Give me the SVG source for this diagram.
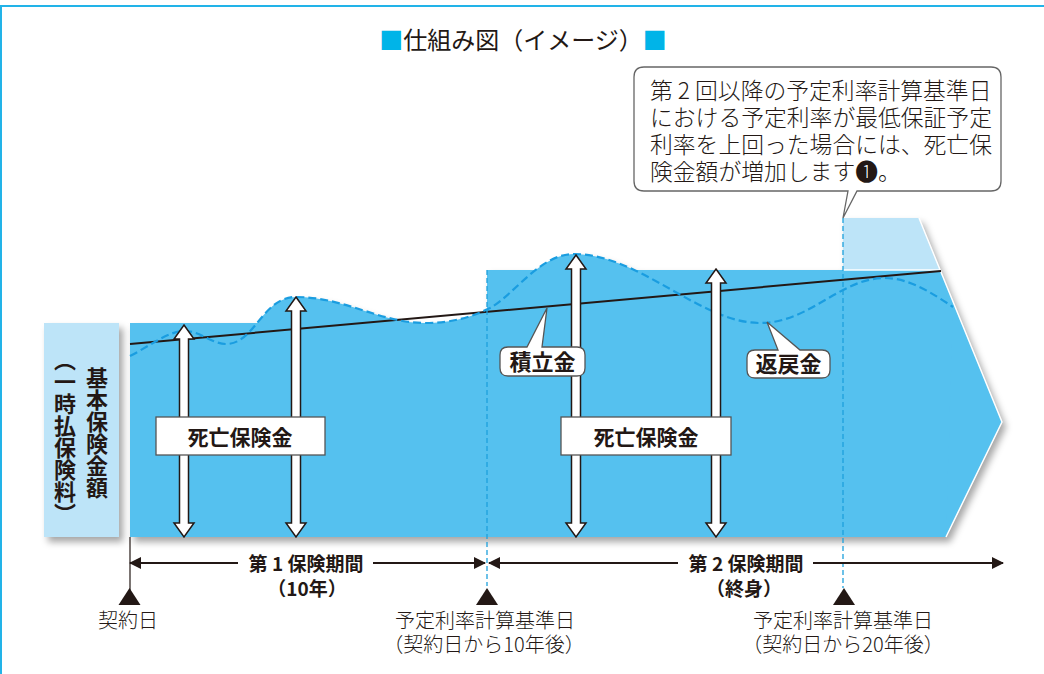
<svg xmlns="http://www.w3.org/2000/svg" width="1044" height="674" viewBox="0 0 1044 674">
<defs>
<style>
text{font-family:"Noto Sans CJK JP","Noto Sans CJK SC",sans-serif;fill:#231815}
.b{font-weight:bold}
.l{font-weight:300}
.dv{stroke:#1ea0dc;stroke-width:1.3;stroke-dasharray:5 3;fill:none}
.dbl{fill:#fff;stroke:#231815;stroke-width:1.5;stroke-linejoin:miter}
.box{fill:#fff;stroke:#555;stroke-width:1.3}
.tl{stroke:#231815;stroke-width:2;fill:none}
</style>
<filter id="sh" x="-10%" y="-10%" width="130%" height="130%">
<feDropShadow dx="4" dy="5" stdDeviation="3.5" flood-color="#000" flood-opacity="0.35"/>
</filter>
<marker id="ah" viewBox="0 0 12 12" refX="11" refY="6" markerWidth="12" markerHeight="12" markerUnits="userSpaceOnUse" orient="auto-start-reverse">
<path d="M0,0 L12,6 L0,12 Z" fill="#231815"/>
</marker>
</defs>
<rect width="1044" height="674" fill="#fff"/>
<g id="frame">
<path d="M1,674 V6 H1044" fill="none" stroke="#22b3e8" stroke-width="2"/>
</g>
<g id="title">
<text x="523" y="49" font-size="24" text-anchor="middle"><tspan fill="#00b4e8">■</tspan>仕組み図（イメージ）<tspan fill="#00b4e8">■</tspan></text>
</g>
<g id="base-box">
<rect x="44" y="323" width="75" height="214" fill="#bde4f8" filter="url(#sh)"/>
<text x="97" y="433" font-size="22" class="b" text-anchor="middle" style="writing-mode:vertical-rl">基本保険金額</text>
<text x="65" y="437" font-size="22" class="b" text-anchor="middle" style="writing-mode:vertical-rl">（一時払保険料）</text>
</g>
<g id="main-shape">
<g filter="url(#sh)">
<polygon points="843,218 919,218 940,270 843,270" fill="#bde4f8"/>
<polygon points="130,323 487,323 487,270 940,270 1002,422 946,537 130,537" fill="#55c1ef"/>
<path d="M130,356 C150,346 168,331 185,331 C200,331 212,344 226,344 C255,344 262,297 296,297 C345,297 380,323 425,323 C450,323 470,318 490,308 C515,294 540,254 574,254 C640,254 700,323 760,323 C810,323 840,278 885,278 C910,278 935,295 953,307 L946,537 L130,537 Z" fill="#55c1ef"/>
</g>
<path d="M919,218 L1002,422 L946,537" fill="none" stroke="#fff" stroke-width="1.5"/>
<line x1="843" y1="270" x2="940" y2="270" stroke="#fff" stroke-width="1.5"/>
</g>
<g id="connectors">
<line x1="130" y1="344" x2="941" y2="271" stroke="#231815" stroke-width="2"/>
<path d="M130,356 C150,346 168,331 185,331 C200,331 212,344 226,344 C255,344 262,297 296,297 C345,297 380,323 425,323 C450,323 470,318 490,308 C515,294 540,254 574,254 C640,254 700,323 760,323 C810,323 840,278 885,278 C910,278 935,295 953,307" fill="none" stroke="#1a9de0" stroke-width="2.2" stroke-dasharray="8 4"/>
<line x1="487" y1="270" x2="487" y2="586" class="dv"/>
<line x1="843" y1="218" x2="843" y2="588" class="dv"/>
<path class="dbl" d="M184,325 L194,339 L188.5,339 L188.5,523 L194,523 L184,537 L174,523 L179.5,523 L179.5,339 L174,339 Z"/>
<path class="dbl" d="M296,297 L306,311 L300.5,311 L300.5,523 L306,523 L296,537 L286,523 L291.5,523 L291.5,311 L286,311 Z"/>
<path class="dbl" d="M576,255 L586,269 L580.5,269 L580.5,523 L586,523 L576,537 L566,523 L571.5,523 L571.5,269 L566,269 Z"/>
<path class="dbl" d="M716,269 L726,283 L720.5,283 L720.5,523 L726,523 L716,537 L706,523 L711.5,523 L711.5,283 L706,283 Z"/>
<line x1="130" y1="537" x2="130" y2="590" stroke="#231815" stroke-width="1.2"/>
<line x1="130" y1="563" x2="238" y2="563" class="tl" marker-start="url(#ah)"/>
<line x1="373" y1="563" x2="485" y2="563" class="tl" marker-end="url(#ah)"/>
<line x1="489" y1="563" x2="678" y2="563" class="tl" marker-start="url(#ah)"/>
<line x1="813" y1="563" x2="1003" y2="563" class="tl" marker-end="url(#ah)"/>
<polygon points="129.5,588 140.5,605 118.5,605" fill="#231815"/>
<polygon points="487,588 498,605 476,605" fill="#231815"/>
<polygon points="844,588 855,605 833,605" fill="#231815"/>
</g>
<g id="death-benefit-1">
<rect x="156" y="417" width="169" height="38" class="box"/>
<text x="240" y="445" font-size="21" class="b" text-anchor="middle">死亡保険金</text>
</g>
<g id="death-benefit-2">
<rect x="561" y="417" width="170" height="38" class="box"/>
<text x="646" y="445" font-size="21" class="b" text-anchor="middle">死亡保険金</text>
</g>
<g id="label-tsumitate">
<path class="box" d="M508,347 L527,347 L547,308 L542,347 L577,347 Q585,347 585,355 L585,368 Q585,376 577,376 L508,376 Q500,376 500,368 L500,355 Q500,347 508,347 Z"/>
<text x="542.5" y="370" font-size="22" class="b" text-anchor="middle">積立金</text>
</g>
<g id="label-henrei">
<path class="box" d="M755,350 L778,350 L767,322 L800,350 L822,350 Q830,350 830,358 L830,370 Q830,378 822,378 L755,378 Q747,378 747,370 L747,358 Q747,350 755,350 Z"/>
<text x="788.5" y="372" font-size="22" class="b" text-anchor="middle">返戻金</text>
</g>
<g id="callout">
<path d="M644,67 H991 Q1001,67 1001,77 V181 Q1001,191 991,191 H857 L843,218 L848,191 H644 Q634,191 634,181 V77 Q634,67 644,67 Z" fill="#fff" stroke="#666" stroke-width="1.3"/>
<text x="650" y="99" font-size="22.8" class="l">第 2 回以降の予定利率計算基準日</text>
<text x="650" y="126" font-size="22.8" class="l">における予定利率が最低保証予定</text>
<text x="650" y="153" font-size="22.8" class="l">利率を上回った場合には、死亡保</text>
<text x="650" y="180" font-size="22.8" class="l">険金額が増加します❶。</text>
</g>
<g id="period-labels">
<text x="306" y="571" font-size="19" class="b" text-anchor="middle">第 1 保険期間</text>
<text x="307" y="596" font-size="19" class="b" text-anchor="middle">（10年）</text>
<text x="746" y="571" font-size="19" class="b" text-anchor="middle">第 2 保険期間</text>
<text x="744" y="596" font-size="19" class="b" text-anchor="middle">（終身）</text>
</g>
<g id="date-labels">
<text x="128" y="628" font-size="20" class="l" text-anchor="middle">契約日</text>
<text x="485" y="628" font-size="20" class="l" text-anchor="middle">予定利率計算基準日</text>
<text x="484" y="652" font-size="20" class="l" text-anchor="middle">（契約日から10年後）</text>
<text x="843" y="628" font-size="20" class="l" text-anchor="middle">予定利率計算基準日</text>
<text x="843" y="652" font-size="20" class="l" text-anchor="middle">（契約日から20年後）</text>
</g>
</svg>
